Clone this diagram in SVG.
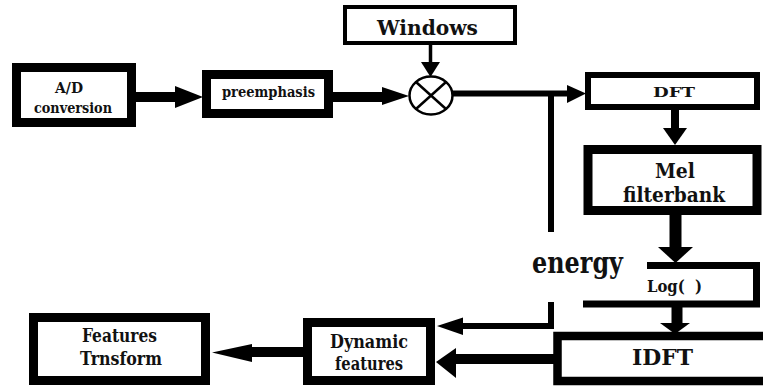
<svg xmlns="http://www.w3.org/2000/svg" width="763" height="387" viewBox="0 0 763 387">
<style>
.box{fill:#fff;stroke:#000;stroke-linejoin:miter}
.ln{stroke:#000;fill:none}
.ah{fill:#000;stroke:none}
.t{font-family:'DejaVu Serif','Liberation Serif',serif;font-weight:700;fill:#111;text-anchor:middle}
</style>
<rect width="763" height="387" fill="#fff"/>
<g id="connectors">
<line class="ln" x1="135" y1="97" x2="178" y2="97" stroke-width="10"/>
<polygon class="ah" points="175,86 203,97 175,108"/>
<line class="ln" x1="333" y1="97" x2="385" y2="97" stroke-width="10"/>
<polygon class="ah" points="382,87 409,96 382,105"/>
<line class="ln" x1="430.5" y1="45" x2="430.5" y2="63" stroke-width="3.5"/>
<polygon class="ah" points="421,62 440,62 430.5,77"/>
<line class="ln" x1="452" y1="93.5" x2="570" y2="93.5" stroke-width="6"/>
<polygon class="ah" points="567,85 586,93.5 567,103"/>
<line class="ln" x1="675" y1="110" x2="675" y2="130" stroke-width="8"/>
<polygon class="ah" points="663,128 687,128 675,145"/>
<line class="ln" x1="675.5" y1="214" x2="675.5" y2="249" stroke-width="12"/>
<polygon class="ah" points="658,247 693,247 675.5,263"/>
<line class="ln" x1="677" y1="307" x2="677" y2="325" stroke-width="11"/>
<polygon class="ah" points="660,323 690,323 675,334"/>
<polyline class="ln" points="551,93 551,232" stroke-width="6"/>
<polyline class="ln" points="551,302 551,326 460,326" stroke-width="6"/>
<polygon class="ah" points="463,317.5 437,326 463,335"/>
<line class="ln" x1="555" y1="359" x2="452" y2="359" stroke-width="10"/>
<polygon class="ah" points="456,348 436,362 456,378"/>
<line class="ln" x1="304" y1="352" x2="248" y2="352" stroke-width="10"/>
<polygon class="ah" points="252,344 212,352.5 252,362"/>
</g>
<g id="ad">
<rect class="box" x="16.5" y="67.5" width="115" height="55" stroke-width="9"/>
<text class="t" x="69" y="93" font-size="15" textLength="28" lengthAdjust="spacingAndGlyphs">A/D</text>
<text class="t" x="73" y="113" font-size="15" textLength="78" lengthAdjust="spacingAndGlyphs">conversion</text>
</g>
<g id="preemphasis">
<rect class="box" x="206.5" y="74.5" width="122" height="39" stroke-width="9"/>
<text class="t" x="268.5" y="97" font-size="15.5" textLength="93" lengthAdjust="spacingAndGlyphs">preemphasis</text>
</g>
<g id="windows">
<rect class="box" x="345" y="7" width="170" height="36" stroke-width="4"/>
<text class="t" x="427.5" y="35" font-size="21" textLength="101" lengthAdjust="spacingAndGlyphs">Windows</text>
</g>
<g id="multiplier">
<ellipse cx="431" cy="95.5" rx="21.5" ry="19" fill="#fff" stroke="#000" stroke-width="2.5"/>
<line class="ln" x1="416" y1="82" x2="446" y2="109" stroke-width="2.5"/>
<line class="ln" x1="446" y1="82" x2="416" y2="109" stroke-width="2.5"/>
</g>
<g id="dft">
<rect class="box" x="588" y="75" width="169" height="32" stroke-width="6"/>
<text class="t" x="674" y="97" font-size="13.5" textLength="42" lengthAdjust="spacingAndGlyphs">DFT</text>
</g>
<g id="mel">
<rect class="box" x="588" y="149.5" width="169" height="61" stroke-width="9"/>
<text class="t" x="675" y="178" font-size="20.5" textLength="40" lengthAdjust="spacingAndGlyphs">Mel</text>
<text class="t" x="674" y="202" font-size="20.5" textLength="102" lengthAdjust="spacingAndGlyphs">filterbank</text>
</g>
<g id="energy">
<text class="t" x="577.5" y="273" font-size="29" textLength="91" lengthAdjust="spacingAndGlyphs">energy</text>
</g>
<g id="log">
<path class="ln" d="M647,265.5 H756.5 V304 H583" stroke-width="7"/>
<text class="t" x="647" y="292" font-size="16" textLength="55" lengthAdjust="spacingAndGlyphs" style="text-anchor:start;white-space:pre">Log(  )</text>
</g>
<g id="idft">
<rect class="box" x="557.5" y="336" width="230" height="45" stroke-width="8.5"/>
<text class="t" x="662.5" y="365" font-size="21.5" textLength="61" lengthAdjust="spacingAndGlyphs">IDFT</text>
</g>
<g id="dynamic">
<rect class="box" x="307.5" y="322.5" width="123" height="58" stroke-width="9"/>
<text class="t" x="369" y="348" font-size="18" textLength="78" lengthAdjust="spacingAndGlyphs">Dynamic</text>
<text class="t" x="369" y="370" font-size="18" textLength="68" lengthAdjust="spacingAndGlyphs">features</text>
</g>
<g id="features">
<rect class="box" x="33.5" y="317.5" width="172" height="63" stroke-width="9"/>
<text class="t" x="119.5" y="342" font-size="18" textLength="75" lengthAdjust="spacingAndGlyphs">Features</text>
<text class="t" x="121" y="365" font-size="18" textLength="82" lengthAdjust="spacingAndGlyphs">Trnsform</text>
</g>
</svg>
